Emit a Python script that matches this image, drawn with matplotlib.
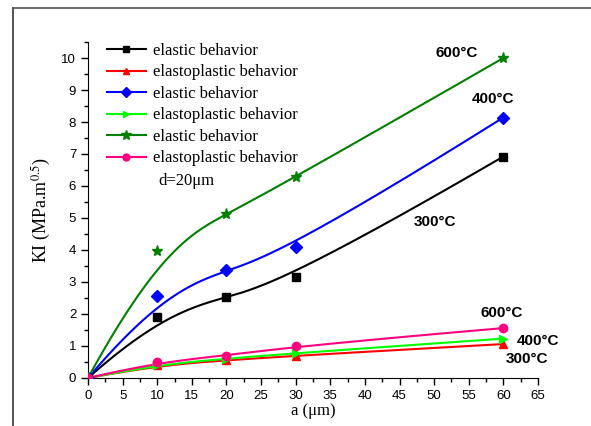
import numpy as np
import matplotlib
matplotlib.use("Agg")
import matplotlib.pyplot as plt
from matplotlib.lines import Line2D
from matplotlib.ticker import MultipleLocator

# crack length a (um)
a = [0, 10, 20, 30, 60]

# elastic behavior
ki_el_300 = [0, 1.92, 2.52, 3.15, 6.92]
ki_el_400 = [0, 2.55, 3.37, 4.08, 8.14]
ki_el_600 = [0, 3.96, 5.12, 6.27, 10.0]

# elastoplastic behavior
ki_ep_300 = [0, 0.40, 0.55, 0.70, 1.06]
ki_ep_400 = [0, 0.42, 0.60, 0.78, 1.23]
ki_ep_600 = [0, 0.50, 0.68, 1.00, 1.56]

series = [
    ("elastic behavior", ki_el_300, "#000000", "s"),
    ("elastoplastic behavior", ki_ep_300, "#ff0000", "^"),
    ("elastic behavior", ki_el_400, "#0000ff", "D"),
    ("elastoplastic behavior", ki_ep_400, "#00ff00", ">"),
    ("elastic behavior", ki_el_600, "#008000", "*"),
    ("elastoplastic behavior", ki_ep_600, "#ff0080", "o"),
]

labels = [
    ("600°C", 53.3, 10.15),
    ("400°C", 58.5, 8.72),
    ("300°C", 50.1, 4.86),
    ("600°C", 59.7, 2.02),
    ("400°C", 65.0, 1.15),
    ("300°C", 63.4, 0.59),
]


def bspline(xs, ys, n=200):
    # clamped cubic B-spline, data points used as control points (like Origin)
    P = np.column_stack([xs, ys]).astype(float)
    k = 3
    m = len(P)
    inner = np.linspace(0, 1, m - k + 1)[1:-1]
    t = np.concatenate([[0] * (k + 1), inner, [1] * (k + 1)])
    u = np.linspace(0, 1, n)
    u[-1] -= 1e-9

    def basis(i, p, u):
        if p == 0:
            return ((t[i] <= u) & (u < t[i + 1])).astype(float)
        out = np.zeros_like(u)
        if t[i + p] != t[i]:
            out += (u - t[i]) / (t[i + p] - t[i]) * basis(i, p - 1, u)
        if t[i + p + 1] != t[i + 1]:
            out += (t[i + p + 1] - u) / (t[i + p + 1] - t[i + 1]) * basis(i + 1, p - 1, u)
        return out

    B = np.array([basis(i, k, u) for i in range(m)])
    C = B.T @ P
    return C[:, 0], C[:, 1]


plt.rcParams["font.family"] = "Liberation Serif"
plt.rcParams["mathtext.fontset"] = "stix"

fig = plt.figure(figsize=(5.91, 4.26), dpi=100)
ax = fig.add_axes([0.1489, 0.1127, 0.7614, 0.7887])

handles = []
for name, ys, col, mk in series:
    sx, sy = bspline(a, ys)
    ax.plot(sx, sy, color=col, lw=1.5, zorder=2)
    ms = 8 if mk == "*" else 6
    ax.plot(a, ys, ls="none", marker=mk, color=col, ms=ms, zorder=3)
    handles.append(Line2D([], [], color=col, lw=1.5, marker=mk, ms=ms - 1))

for txt, x, y in labels:
    ax.text(x, y, txt, family="Liberation Sans", fontweight="bold", fontsize=11,
            ha="center", va="center", clip_on=False)

leg = ax.legend(handles, [s[0] for s in series], loc="upper left",
                bbox_to_anchor=(0.028, 1.017), frameon=False, fontsize=12,
                handlelength=2.3, handletextpad=0.45, labelspacing=0.33,
                borderaxespad=0.0)
ax.text(0.156, 0.586, "d=20μm", transform=ax.transAxes, fontsize=12,
        ha="left", va="center")

ax.set_xlim(0, 65)
ax.set_ylim(0, 10.5)
ax.xaxis.set_major_locator(MultipleLocator(5))
ax.xaxis.set_minor_locator(MultipleLocator(2.5))
ax.yaxis.set_major_locator(MultipleLocator(1))
ax.yaxis.set_minor_locator(MultipleLocator(0.5))
ax.tick_params(which="major", direction="out", length=5, width=1, labelsize=9.5)
ax.tick_params(which="minor", direction="out", length=3, width=1)
for lab in ax.get_xticklabels() + ax.get_yticklabels():
    lab.set_family("Liberation Sans")
ax.spines["top"].set_visible(False)
ax.spines["right"].set_visible(False)

ax.set_xlabel("a (μm)", fontsize=12, labelpad=1)
ax.set_ylabel(r"KI (MPa.m$^{0.5}$)", fontsize=13, labelpad=6)

# outer frame lines
fig.add_artist(Line2D([12.5 / 591, 12.5 / 591], [0, 1 - 8 / 426], color="#333333", lw=1.2,
                      transform=fig.transFigure))
fig.add_artist(Line2D([12.5 / 591, 1], [1 - 8 / 426, 1 - 8 / 426], color="#555555", lw=1.2,
                      transform=fig.transFigure))

fig.savefig("out.png", dpi=100)
